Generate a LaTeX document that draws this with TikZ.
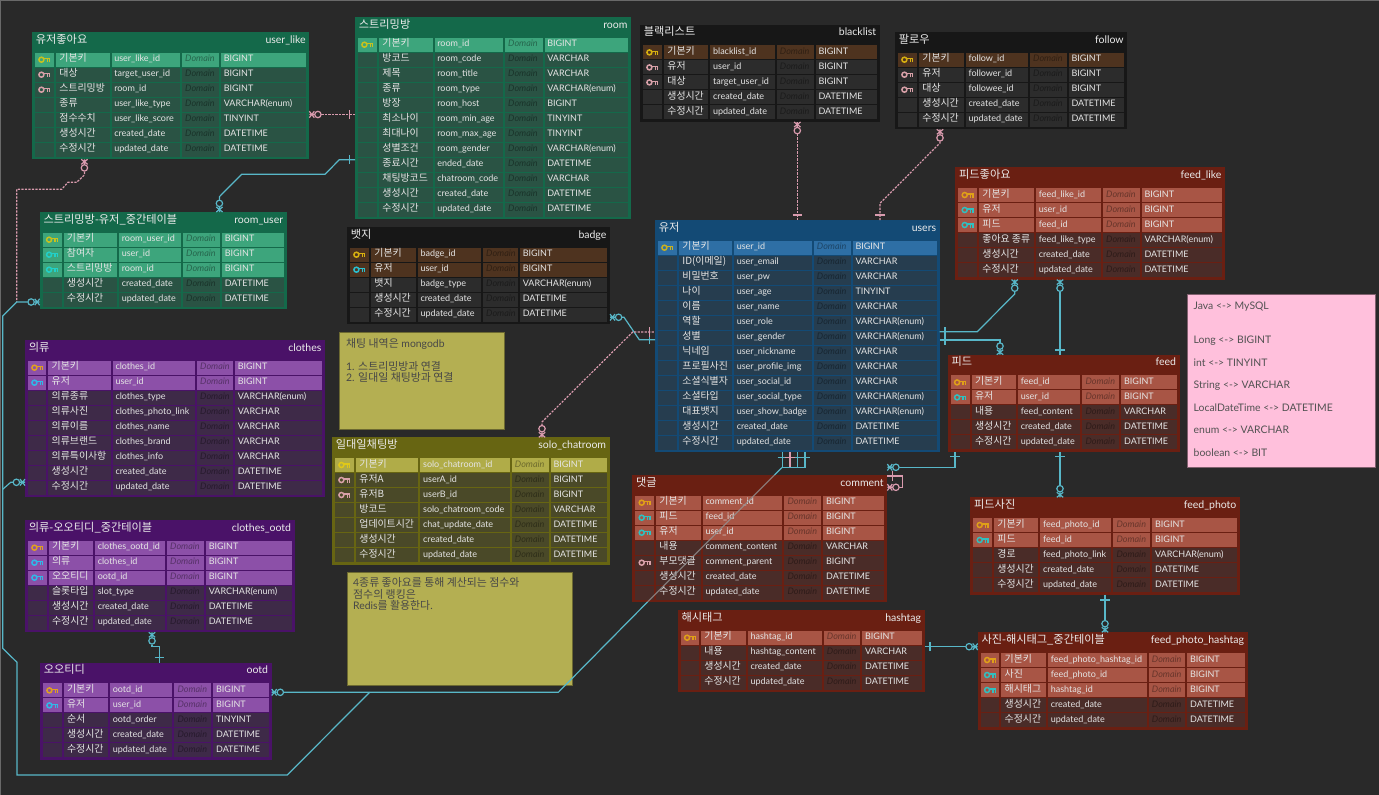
\documentclass[tikz,border=0pt]{standalone}
\usepackage{fontspec}
\setmainfont{Lato}
\newfontfamily\kr{Noto Sans CJK KR}
\usetikzlibrary{calc}
\lineskiplimit=-10pt
\newcommand\K[1]{{\kr\fontsize{10.9}{11}\selectfont #1}}
\definecolor{bgcol}{HTML}{292929}
\definecolor{cyline}{HTML}{58B7C8}
\definecolor{pkline}{HTML}{D99BAE}
\definecolor{greenframe}{HTML}{14694A}\definecolor{greenhi}{HTML}{3DA57C}\definecolor{greencell}{HTML}{2A5344}\definecolor{greenpk}{HTML}{C8C21E}\definecolor{greenfk}{HTML}{22D0C8}
\definecolor{blueframe}{HTML}{134A75}\definecolor{bluehi}{HTML}{2E6FA5}\definecolor{bluecell}{HTML}{263D4F}\definecolor{bluepk}{HTML}{C8B020}\definecolor{bluefk}{HTML}{30C0D0}
\definecolor{purpleframe}{HTML}{4A1268}\definecolor{purplehi}{HTML}{8C50A8}\definecolor{purplecell}{HTML}{3E2A48}\definecolor{purplepk}{HTML}{E0A020}\definecolor{purplefk}{HTML}{30B8E8}
\definecolor{blackframe}{HTML}{171717}\definecolor{blackhi}{HTML}{4E331F}\definecolor{blackcell}{HTML}{2C2C2C}\definecolor{blackpk}{HTML}{D8B010}\definecolor{blackfk}{HTML}{2AC0D0}
\definecolor{redframe}{HTML}{6A1F12}\definecolor{redhi}{HTML}{A85545}\definecolor{redcell}{HTML}{4A2C28}\definecolor{redpk}{HTML}{E0A018}\definecolor{redfk}{HTML}{30C0C0}
\definecolor{oliveframe}{HTML}{676512}\definecolor{olivehi}{HTML}{B0AC48}\definecolor{olivecell}{HTML}{4A4928}\definecolor{olivepk}{HTML}{E0C818}\definecolor{olivefk}{HTML}{30C0C0}
\definecolor{keypink}{HTML}{D8A0A8}
\definecolor{noteyellow}{HTML}{B4AF52}
\definecolor{notepink}{HTML}{FFC0DC}
\catcode`\_=12
\tikzset{
  frame box/.style={draw=none,inner sep=0pt,outer sep=0pt,anchor=north west},
  title ko/.style={inner sep=0pt,anchor=base west,text=white!92!black,font=\kr\fontsize{11.2}{13}\selectfont},
  title en/.style={inner sep=0pt,anchor=base east,text=white!92!black,font=\fontsize{10.5}{13}\selectfont},
  cell ko/.style={inner sep=0pt,anchor=base west,text=white!90!black,font=\kr\fontsize{9.9}{11}\selectfont},
  cell en/.style={inner sep=0pt,anchor=base west,text=white!90!black,font=\fontsize{9}{11}\selectfont},
  cell dom/.style={inner sep=0pt,anchor=base west,text=black,text opacity=.38,font=\itshape\fontsize{9}{11}\selectfont},
  lnc/.style={color=cyline,line width=1.2pt},
  lnp/.style={color=pkline,line width=1.2pt},
  lnpd/.style={lnp,dash pattern=on 2.2pt off 1.3pt},
  note box/.style={frame box,line width=.8pt},
  note text/.style={inner sep=0pt,anchor=north west,align=left,text=black!72,font=\fontsize{10.4}{11.3}\selectfont},
  pics/zeromany/.style={code={
    \draw (0,0)--(5,0) (0,-3.2)--(5,3.2) (0,3.2)--(5,-3.2);
    \draw[fill=bgcol] (8.6,0) circle (3.2);
  }},
  pics/onebar/.style={code={\draw (0,-4.6)--(0,4.6);}},
  pics/keyicon/.style={code={
    \draw[line width=1.5pt] (-3,0) circle (2.5);
    \draw[line width=1.3pt] (-.4,-1.1)--(6,-1.1) (2.8,-1.1)--(2.8,2.6) (5.4,-1.1)--(5.4,2.6);
  }}
}
\def\ertparse#1,#2,#3,#4\relax{\def\erxa{#1}\def\erya{#2}\def\erxb{#3}\def\ernr{#4}}
\def\ertcols#1,#2,#3,#4\relax{\def\ercb{#1}\def\ercc{#2}\def\ercd{#3}\def\erce{#4}}
\newcommand\ertable[7]{%
  \ertparse#3\relax\ertcols#4\relax
  \pgfmathsetmacro\erww{\erxb-\erxa}%
  \pgfmathsetmacro\erhh{22.3+15*\ernr}%
  \node[frame box,fill=#2frame,minimum width=\erww pt,minimum height=\erhh pt] (#1) at (\erxa,\erya) {};
  \node[title ko] (#1ko) at (\erxa+3.6,\erya+11) {#5};
  \node[title en] (#1en) at (\erxb-3.4,\erya+11) {#6};
  \foreach \k/\ko/\en/\ty [count=\i from 0] in {#7} {
    \if p\k\def\erfill{#2hi}\else\if f\k\def\erfill{#2hi}\else\def\erfill{#2cell}\fi\fi
    \pgfmathsetmacro\ertop{\erya+20.7+15*\i}%
    \pgfmathsetmacro\erbot{\ertop+14}%
    \pgfmathsetmacro\erbase{\ertop+9}%
    \pgfmathsetmacro\erkey{\ertop+7}%
    \fill[\erfill] (\erxa+3,\ertop) rectangle (\ercb-2,\erbot);
    \fill[\erfill] (\ercb,\ertop) rectangle (\ercc-2,\erbot);
    \fill[\erfill] (\ercc,\ertop) rectangle (\ercd-2,\erbot);
    \fill[\erfill] (\ercd,\ertop) rectangle (\erce-2,\erbot);
    \fill[\erfill] (\erce,\ertop) rectangle (\erxb-3,\erbot);
    \if p\k \path (\erxa+12.4,\erkey) pic[color=#2pk] {keyicon};\fi
    \if f\k \path (\erxa+12.4,\erkey) pic[color=#2fk] {keyicon};\fi
    \if n\k \path (\erxa+12.4,\erkey) pic[color=keypink] {keyicon};\fi
    \node[cell ko] (#1-ko\i) at (\ercb+3.2,\erbase) {\ko};
    \node[cell en] (#1-en\i) at (\ercc+2.6,\erbase) {\en};
    \node[cell dom] (#1-dm\i) at (\ercd+3,\erbase) {Domain};
    \node[cell en] (#1-ty\i) at (\erce+2.6,\erbase) {\ty};
  }
}
\begin{document}
\begin{tikzpicture}[x=1pt,y=-1pt]
\useasboundingbox (0,0) rectangle (1379,795);
\fill[bgcol] (0,0) rectangle (1379,795);
\draw[white!30!bgcol,line width=1pt] (0.4,795)--(0.4,0.4)--(1379,0.4);

\ertable{userlike}{green}{32,32,309.3,7}{56,111.5,182,221}{유저좋아요}{user_like}{
 p/기본키/user_like_id/BIGINT, n/대상/target_user_id/BIGINT, n/스트리밍방/room_id/BIGINT,
 x/종류/user_like_type/VARCHAR(enum), x/점수수치/user_like_score/TINYINT,
 x/생성시간/created_date/DATETIME, x/수정시간/updated_date/DATETIME}
\ertable{room}{green}{355,17,631,12}{379,434.5,505,544.5}{스트리밍방}{room}{
 p/기본키/room_id/BIGINT, x/방코드/room_code/VARCHAR, x/제목/room_title/VARCHAR,
 x/종류/room_type/VARCHAR(enum), x/방장/room_host/BIGINT, x/최소나이/room_min_age/TINYINT,
 x/최대나이/room_max_age/TINYINT, x/성별조건/room_gender/VARCHAR(enum), x/종료시간/ended_date/DATETIME,
 x/채팅방코드/chatroom_code/VARCHAR, x/생성시간/created_date/DATETIME, x/수정시간/updated_date/DATETIME}
\ertable{roomuser}{green}{39.7,212,286.7,5}{63.5,119,183,222}{스트리밍방-유저_중간테이블}{room_user}{
 p/기본키/room_user_id/BIGINT, f/참여자/user_id/BIGINT, f/스트리밍방/room_id/BIGINT,
 x/생성시간/created_date/DATETIME, x/수정시간/updated_date/DATETIME}
\ertable{clothes}{purple}{25,340,325,9}{48.3,112.7,197,235}{의류}{clothes}{
 p/기본키/clothes_id/BIGINT, f/유저/user_id/BIGINT, x/의류종류/clothes_type/VARCHAR(enum),
 x/의류사진/clothes_photo_link/VARCHAR, x/의류이름/clothes_name/VARCHAR, x/의류브랜드/clothes_brand/VARCHAR,
 x/의류특이사항/clothes_info/VARCHAR, x/생성시간/created_date/DATETIME, x/수정시간/updated_date/DATETIME}
\ertable{clothesootd}{purple}{25,520,294.7,6}{48.7,95,167,206}{의류-오오티디_중간테이블}{clothes_ootd}{
 p/기본키/clothes_ootd_id/BIGINT, f/의류/clothes_id/BIGINT, f/오오티디/ootd_id/BIGINT,
 x/슬롯타입/slot_type/VARCHAR(enum), x/생성시간/created_date/DATETIME, x/수정시간/updated_date/DATETIME}
\ertable{ootd}{purple}{40,662.7,271.7,5}{63.7,110,174.3,213.3}{오오티디}{ootd}{
 p/기본키/ootd_id/BIGINT, f/유저/user_id/BIGINT, x/순서/ootd_order/TINYINT,
 x/생성시간/created_date/DATETIME, x/수정시간/updated_date/DATETIME}
\ertable{badge}{black}{347,227,610,5}{371,417.7,483,520}{뱃지}{badge}{
 p/기본키/badge_id/BIGINT, f/유저/user_id/BIGINT, x/뱃지/badge_type/VARCHAR(enum),
 x/생성시간/created_date/DATETIME, x/수정시간/updated_date/DATETIME}
\ertable{blacklist}{black}{640,24.7,879.7,5}{664,710.3,776.7,815.7}{블랙리스트}{blacklist}{
 p/기본키/blacklist_id/BIGINT, n/유저/user_id/BIGINT, n/대상/target_user_id/BIGINT,
 x/생성시간/created_date/DATETIME, x/수정시간/updated_date/DATETIME}
\ertable{follow}{black}{895,32,1127.3,5}{919,965.7,1030,1068.7}{팔로우}{follow}{
 p/기본키/follow_id/BIGINT, n/유저/follower_id/BIGINT, n/대상/followee_id/BIGINT,
 x/생성시간/created_date/DATETIME, x/수정시간/updated_date/DATETIME}
\ertable{feedlike}{red}{955.3,167.3,1225,6}{979,1036,1103,1141.7}{피드좋아요}{feed_like}{
 p/기본키/feed_like_id/BIGINT, f/유저/user_id/BIGINT, f/피드/feed_id/BIGINT,
 x/좋아요 종류/feed_like_type/VARCHAR(enum), x/생성시간/created_date/DATETIME, x/수정시간/updated_date/DATETIME}
\ertable{users}{blue}{655,220,939.7,14}{679,734,813.7,852.7}{유저}{users}{
 p/기본키/user_id/BIGINT, x/ID(이메일)/user_email/VARCHAR, x/비밀번호/user_pw/VARCHAR, x/나이/user_age/TINYINT,
 x/이름/user_name/VARCHAR, x/역할/user_role/VARCHAR(enum), x/성별/user_gender/VARCHAR(enum),
 x/닉네임/user_nickname/VARCHAR, x/프로필사진/user_profile_img/VARCHAR, x/소셜식별자/user_social_id/VARCHAR,
 x/소셜타입/user_social_type/VARCHAR(enum), x/대표뱃지/user_show_badge/VARCHAR(enum),
 x/생성시간/created_date/DATETIME, x/수정시간/updated_date/DATETIME}
\ertable{feed}{red}{947.7,354.7,1179.7,5}{971.7,1018,1082.3,1121.3}{피드}{feed}{
 p/기본키/feed_id/BIGINT, f/유저/user_id/BIGINT, x/내용/feed_content/VARCHAR,
 x/생성시간/created_date/DATETIME, x/수정시간/updated_date/DATETIME}
\ertable{feedphoto}{red}{970.3,497.3,1240,5}{994,1040.3,1113.3,1152.3}{피드사진}{feed_photo}{
 p/기본키/feed_photo_id/BIGINT, f/피드/feed_id/BIGINT, x/경로/feed_photo_link/VARCHAR(enum),
 x/생성시간/created_date/DATETIME, x/수정시간/updated_date/DATETIME}
\ertable{fph}{red}{977.7,632.3,1247.7,5}{1001.3,1048,1148.7,1187.3}{사진-해시태그_중간테이블}{feed_photo_hashtag}{
 p/기본키/feed_photo_hashtag_id/BIGINT, f/사진/feed_photo_id/BIGINT, f/해시태그/hashtag_id/BIGINT,
 x/생성시간/created_date/DATETIME, x/수정시간/updated_date/DATETIME}
\ertable{comment}{red}{632.3,475,887.3,7}{656,702.7,784.3,823.3}{댓글}{comment}{
 p/기본키/comment_id/BIGINT, f/피드/feed_id/BIGINT, f/유저/user_id/BIGINT, x/내용/comment_content/VARCHAR,
 n/부모댓글/comment_parent/BIGINT, x/생성시간/created_date/DATETIME, x/수정시간/updated_date/DATETIME}
\ertable{hashtag}{red}{677.7,610,924.7,4}{701,747.7,823.7,862.3}{해시태그}{hashtag}{
 p/기본키/hashtag_id/BIGINT, x/내용/hashtag_content/VARCHAR, x/생성시간/created_date/DATETIME, x/수정시간/updated_date/DATETIME}
\ertable{solochat}{olive}{332,437.3,609.7,7}{356,420.3,511.7,550.7}{일대일채팅방}{solo_chatroom}{
 p/기본키/solo_chatroom_id/BIGINT, n/유저A/userA_id/BIGINT, n/유저B/userB_id/BIGINT, x/방코드/solo_chatroom_code/VARCHAR,
 x/업데이트시간/chat_update_date/DATETIME, x/생성시간/created_date/DATETIME, x/수정시간/updated_date/DATETIME}

% notes
\node[note box,draw=noteyellow!60!black,fill=noteyellow,minimum width=165pt,minimum height=97.4pt] (noteA) at (339.7,332.3) {};
\node[note text] (noteAt) at (346,338.5) {\K{채팅 내역은} mongodb\\[11pt]1. \K{스트리밍방과 연결}\\2. \K{일대일 채팅방과 연결}};
\node[note box,draw=noteyellow!60!black,fill=noteyellow,minimum width=225.3pt,minimum height=113pt] (noteB) at (347,572) {};
\node[note text] (noteBt) at (353,577.5) {4\K{종류 좋아요를 통해 계산되는 점수와}\\\K{점수의 랭킹은}\\Redis\K{를 활용한다}.};
\node[note box,draw=black!50!notepink,fill=notepink,minimum width=187.6pt,minimum height=172.3pt] (noteC) at (1187.7,294.7) {};
\node[note text,font=\fontsize{10.4}{22.5}\selectfont,text=black!68] (noteCt) at (1193.5,301.5) {Java <-> MySQL\\[11.8pt]Long <-> BIGINT\\int <-> TINYINT\\String <-> VARCHAR\\LocalDateTime <-> DATETIME\\enum <-> VARCHAR\\boolean <-> BIT};

% user_like -- room
\draw[lnpd] (userlike.east |- 0,114.5) ++(12,0) -- (room.west |- 0,114.5);
\path (userlike.east |- 0,114.5) pic[lnp] {zeromany};
\path (349.5,114.5) pic[lnp] {onebar};
% user_like -- users (runs on to the left trunk)
\draw[lnpd] (84.4,171.8) -- (84.4,175) -- (76.7,182.3) -- (68,182.3) -- (61.7,189.3) -- (16.7,189.3) -- (16.7,302);
\path (userlike.south -| 84.4,0) pic[lnp,rotate=270] {zeromany};
% room_user -- room
\draw[lnc] (219.4,200) -- (219.4,196.7) -- (241.7,174.3) -- (325,174.3) -- (339.3,159.7) -- (room.west |- 0,159.7);
\path (roomuser.north -| 219.4,0) pic[lnc,rotate=90] {zeromany};
\path (349.5,159.7) pic[lnc] {onebar};
% room_user -- users: trunk down the left margin
\coordinate (trunkA) at (558.3,692.3);
\coordinate (trunkB) at (782.3,467.3);
\draw[lnc] (roomuser.west |- 0,302) ++(-12,0) -- (16.7,302) -- (2.7,316) -- (2.7,648.3) -- (17,662.3) -- (17,775) -- (287.3,775) -- (369.6,692.3);
\path (roomuser.west |- 0,302) pic[lnc,rotate=180] {zeromany};
% ootd -- users
\draw[lnc] (ootd.east |- 0,692.3) ++(12,0) -- (trunkA) -- (647.5,602);
\draw[lnc] (774.5,475) -- (trunkB);
\draw[color=black!42!white,line width=1.2pt,opacity=.75] (647.5,602) -- (774.5,475);
\path (ootd.east |- 0,692.3) pic[lnc] {zeromany};
\draw[lnc] (users.south -| 782.3,0) -- (trunkB) -- (805,467.3) -- (users.south -| 805,0);
\draw[lnc] (users.south -| 797.7,0) -- (797.7,467.3);
\draw[lnp] (users.south -| 790,0) -- (790,467.3);
\path (782.3,457.3) pic[lnc,rotate=90] {onebar};
\path (797.7,457.3) pic[lnc,rotate=90] {onebar};
\path (805,457.3) pic[lnc,rotate=90] {onebar};
\path (790,457.3) pic[lnp,rotate=90] {onebar};
% clothes -- trunk
\draw[lnc] (clothes.west |- 0,482.3) ++(-12,0) -- (10.7,482.3) -- (2.7,489.3);
\path (clothes.west |- 0,482.3) pic[lnc,rotate=180] {zeromany};
% clothes_ootd -- ootd
\draw[lnc] (152,645) -- (152,646.7) -- (159.3,646.7) -- (ootd.north -| 159.3,0);
\path (clothesootd.south -| 152,0) pic[lnc,rotate=270] {zeromany};
\path (159.3,657.3) pic[lnc,rotate=90] {onebar};
% blacklist -- users
\draw[lnpd] (797.3,133.9) -- (users.north -| 797.3,0);
\path (blacklist.south -| 797.3,0) pic[lnp,rotate=270] {zeromany};
\path (797.3,215) pic[lnp,rotate=90] {onebar};
% follow -- users
\draw[lnpd] (940,141.5) -- (940,143) -- (880,203.3) -- (users.north -| 880,0);
\path (follow.south -| 940,0) pic[lnp,rotate=270] {zeromany};
\path (880,215) pic[lnp,rotate=90] {onebar};
% feed_like -- users
\draw[lnc] (1014.7,291.5) -- (1014.7,294) -- (977.3,331.7) -- (users.east |- 0,331.7);
\path (feedlike.south -| 1014.7,0) pic[lnc,rotate=270] {zeromany};
\path (945,331.7) pic[lnc] {onebar};
% feed_like -- feed
\draw[lnc] (1060,291.5) -- (feed.north -| 1060,0);
\path (feedlike.south -| 1060,0) pic[lnc,rotate=270] {zeromany};
\path (1060,350) pic[lnc,rotate=90] {onebar};
% users -- feed
\draw[lnc] (users.east |- 0,340) -- (1000,340) -- (1000,342.9);
\path (feed.north -| 1000,0) pic[lnc,rotate=90] {zeromany};
\path (945,340) pic[lnc] {onebar};
% badge -- users
\draw[lnc] (badge.east |- 0,317.3) ++(12,0) -- (624,317.3) -- (639.3,339.7) -- (users.west |- 0,339.7);
\path (badge.east |- 0,317.3) pic[lnc] {zeromany};
\path (649.3,339.7) pic[lnc] {onebar};
% solo_chatroom -- users
\draw[lnpd] (542,425.7) -- (542,422) -- (632.7,332) -- (users.west |- 0,332);
\path (solochat.north -| 542,0) pic[lnp,rotate=90] {zeromany};
\path (649.3,332) pic[lnp] {onebar};
% feed -- comment
\draw[lnc] (feed.south -| 955,0) -- (955,467.3) -- (899.3,467.3);
\path (comment.east |- 0,467.3) pic[lnc] {zeromany};
\path (955,456.7) pic[lnc,rotate=90] {onebar};
% comment self
\draw[lnp] (comment.east |- 0,476) -- (902.7,476) -- (902.7,487.3) -- (899.3,487.3);
\path (comment.east |- 0,487.3) pic[lnp] {zeromany};
\path (892.7,476) pic[lnp] {onebar};
% feed -- feed_photo
\draw[lnc] (feed.south -| 1060,0) -- (1060,485);
\path (feedphoto.north -| 1060,0) pic[lnc,rotate=90] {zeromany};
\path (1060,456.7) pic[lnc,rotate=90] {onebar};
% feed_photo -- feed_photo_hashtag
\draw[lnc] (feedphoto.south -| 1105,0) -- (1105,620);
\path (fph.north -| 1105,0) pic[lnc,rotate=90] {zeromany};
\path (1105,600) pic[lnc,rotate=90] {onebar};
% hashtag -- feed_photo_hashtag
\draw[lnc] (hashtag.east |- 0,646.7) -- (966,646.7);
\path (fph.west |- 0,646.7) pic[lnc,rotate=180] {zeromany};
\path (930,646.7) pic[lnc] {onebar};
\end{tikzpicture}
\end{document}
